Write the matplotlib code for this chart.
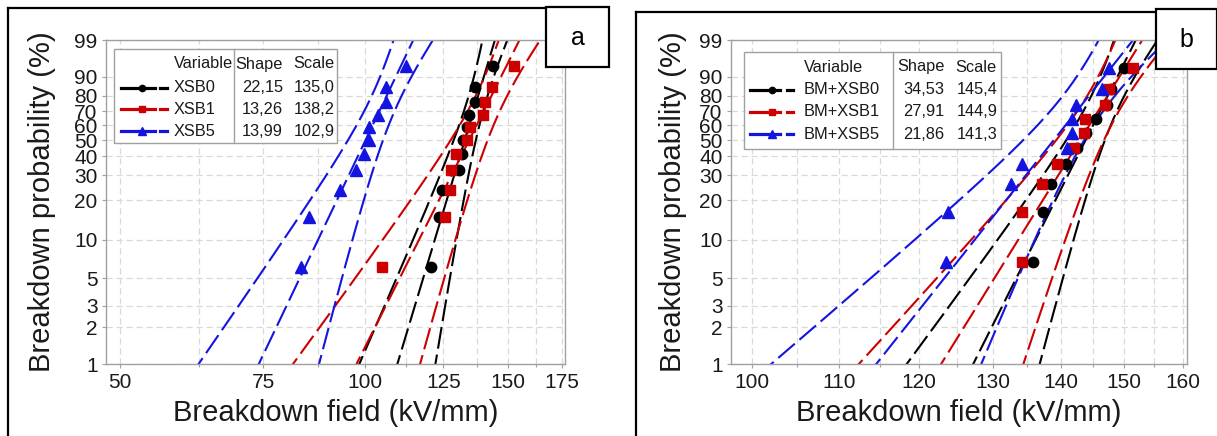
import numpy as np
import matplotlib
matplotlib.use("Agg")
import matplotlib.pyplot as plt
from matplotlib.lines import Line2D
from matplotlib.patches import Rectangle
from matplotlib.ticker import FixedLocator, FixedFormatter, NullFormatter

plt.rcParams["font.family"] = ["Liberation Sans", "DejaVu Sans"]

# ---- data ------------------------------------------------------------
# median-rank plotting positions (%) of the specimens
prob_a = [6.1, 14.9, 23.7, 32.5, 41.2, 50.0, 58.8, 67.5, 76.3, 85.1, 93.9]
prob_b = [6.7, 16.3, 26.0, 35.6, 45.2, 54.8, 64.4, 74.0, 83.7, 93.3]

names_a = ["XSB0", "XSB1", "XSB5"]
shape_a = [22.15, 13.26, 13.99]
scale_a = [135.0, 138.2, 102.9]
field_xsb0 = [120.7, 123.3, 124.4, 130.6, 131.8, 132.1, 133.5, 134.3, 136.8, 136.8, 143.9]
field_xsb1 = [105.0, 125.7, 127.5, 127.8, 129.6, 133.5, 134.7, 140.0, 140.8, 143.5, 152.8]
field_xsb5 = [83.6, 85.4, 93.3, 97.5, 99.7, 101.1, 101.3, 103.9, 106.3, 106.3, 112.5]

names_b = ["BM+XSB0", "BM+XSB1", "BM+XSB5"]
shape_b = [34.53, 27.91, 21.86]
scale_b = [145.4, 144.9, 141.3]
field_bm0 = [135.9, 137.3, 138.5, 140.8, 142.5, 143.9, 145.5, 147.2, 148.0, 150.1]
field_bm1 = [134.2, 134.3, 137.2, 139.5, 142.1, 143.6, 143.8, 147.0, 147.6, 151.5]
field_bm5 = [123.5, 123.8, 132.6, 134.2, 141.0, 141.7, 141.8, 142.4, 146.5, 147.6]

prob_ticks = [1, 2, 3, 5, 10, 20, 30, 40, 50, 60, 70, 80, 90, 99]
xticks_a = [50, 75, 100, 125, 150, 175]
xminor_a = [62.5, 87.5, 112.5, 137.5, 162.5]
xticks_b = [100, 110, 120, 130, 140, 150, 160]
xminor_b = [105, 115, 125, 135, 145, 155]

colors = ["#000000", "#cc0000", "#1414e0"]
markers = ["o", "s", "^"]
msizes = [7.5, 6.5, 9.0]

W, H = 1217, 436


def fx(x):
    return x / W


def fy(y):
    return 1 - y / H


def weib(p):
    p = np.clip(np.asarray(p, dtype=float), 1e-6, 100 - 1e-6)
    return np.log(-np.log(1 - p / 100.0))


def weib_inv(w):
    return 100.0 * (1 - np.exp(-np.exp(np.asarray(w, dtype=float))))


def fit_and_bounds(shape, scale, n, z=1.96):
    """Weibull fit line with approximate 95% Fisher-matrix percentile bounds."""
    w = np.linspace(weib(0.8), weib(99.3), 300)
    b = 1.0 / shape
    centre = np.log(scale) + w * b
    half = z * b * np.sqrt((1.1087 - 0.514 * w + 0.6079 * w ** 2) / n)
    return weib_inv(w), np.exp(centre), np.exp(centre - half), np.exp(centre + half)


fig = plt.figure(figsize=(W / 100, H / 100), dpi=100)


def setup_axes(rect, xlim, ticks, minor, ylab_x):
    ax = fig.add_axes(rect)
    ax.set_xscale("log")
    ax.set_yscale("function", functions=(weib, weib_inv))
    ax.set_xlim(*xlim)
    ax.set_ylim(1, 99)
    ax.xaxis.set_major_locator(FixedLocator(ticks))
    ax.xaxis.set_major_formatter(FixedFormatter([str(t) for t in ticks]))
    ax.xaxis.set_minor_locator(FixedLocator(minor))
    ax.xaxis.set_minor_formatter(NullFormatter())
    ax.yaxis.set_major_locator(FixedLocator(prob_ticks))
    ax.yaxis.set_major_formatter(FixedFormatter([str(t) for t in prob_ticks]))
    ax.yaxis.set_minor_locator(FixedLocator([]))
    ax.grid(True, which="both", color="#d9d9d9", linestyle=(0, (5, 3)), linewidth=0.9)
    ax.set_axisbelow(True)
    for s in ax.spines.values():
        s.set_color("#a0a0a0")
        s.set_linewidth(1.0)
    ax.tick_params(which="both", length=3, width=0.8, color="#a0a0a0",
                   labelsize=15, labelcolor="#1a1a1a", pad=3)
    ax.tick_params(which="minor", length=2)
    ax.set_xlabel("Breakdown field (kV/mm)", fontsize=21, color="#1a1a1a")
    ax.set_ylabel("Breakdown probability (%)", fontsize=21, color="#1a1a1a")
    ax.xaxis.set_label_coords(0.5, -0.15)
    ax.xaxis.label.set_va("center")
    ax.yaxis.set_label_coords(ylab_x, 0.5)
    ax.yaxis.label.set_va("center")
    return ax


def draw_series(ax, fields, shapes, scales, probs):
    n = len(probs)
    for k, (vals, sh, sc) in enumerate(zip(fields, shapes, scales)):
        p, mid, lo, hi = fit_and_bounds(sh, sc, n)
        for curve in (lo, mid, hi):
            ax.plot(curve, p, color=colors[k], lw=1.5, dashes=(10.5, 2.9), zorder=2)
    for k, vals in enumerate(fields):
        ax.plot(vals, probs, ls="none", marker=markers[k], ms=msizes[k],
                color=colors[k], mec=colors[k], zorder=3, clip_on=False)


def draw_legend(box, divider, header_y, rows_y, name_x, shape_r, scale_r,
                shape_l, scale_l, line_x, names, shapes, scales):
    x0, y0, x1, y1 = box
    fig.add_artist(Rectangle((fx(x0), fy(y1)), fx(x1) - fx(x0), fy(y0) - fy(y1),
                             transform=fig.transFigure, facecolor="white",
                             edgecolor="#a0a0a0", lw=1.0, zorder=5))
    fig.add_artist(Line2D([fx(divider)] * 2, [fy(y0), fy(y1)], transform=fig.transFigure,
                          color="#a0a0a0", lw=1.0, zorder=6))
    kw = dict(fontsize=11.8, color="#1a1a1a", va="center", zorder=7)
    fig.text(fx(name_x), fy(header_y), "Variable", ha="left", **kw)
    fig.text(fx(shape_l), fy(header_y), "Shape", ha="left", **kw)
    fig.text(fx(scale_l), fy(header_y), "Scale", ha="left", **kw)
    s0, s1, mk, d0, d1 = line_x
    for k, y in enumerate(rows_y):
        fig.add_artist(Line2D([fx(s0), fx(s1)], [fy(y)] * 2, transform=fig.transFigure,
                              color=colors[k], lw=2.3, zorder=7))
        fig.add_artist(Line2D([fx(d0), fx(d1)], [fy(y)] * 2, transform=fig.transFigure,
                              color=colors[k], lw=2.3, zorder=7))
        fig.add_artist(Line2D([fx(mk)], [fy(y)], transform=fig.transFigure, ls="none",
                              marker=markers[k], ms=msizes[k] * 0.6, color=colors[k], zorder=8))
        fig.text(fx(name_x), fy(y), names[k], ha="left", **kw)
        fig.text(fx(shape_r), fy(y), f"{shapes[k]:.2f}".replace(".", ","), ha="right", **kw)
        fig.text(fx(scale_r), fy(y), f"{scales[k]:.1f}".replace(".", ","), ha="right", **kw)


def frame_line(xs, ys, lw=1.6):
    fig.add_artist(Line2D([fx(v) for v in xs], [fy(v) for v in ys],
                          transform=fig.transFigure, color="black", lw=lw, zorder=9))


def letter_box(x0, y0, x1, y1, letter):
    fig.add_artist(Rectangle((fx(x0), fy(y1)), fx(x1) - fx(x0), fy(y0) - fy(y1),
                             transform=fig.transFigure, facecolor="white",
                             edgecolor="black", lw=1.6, zorder=9))
    fig.text(fx((x0 + x1) / 2), fy((y0 + y1) / 2 + 1), letter, ha="center", va="center",
             fontsize=18, color="black", zorder=10)


# ---- panel a ---------------------------------------------------------
ax_a = setup_axes([fx(106), fy(364.3), (565 - 106) / W, (364.3 - 40) / H],
                  (48.06, 176.4), xticks_a, xminor_a, -0.139)
draw_series(ax_a, [field_xsb0, field_xsb1, field_xsb5], shape_a, scale_a, prob_a)
draw_legend((114, 49, 337, 143), 234, 64, [88, 109.5, 131], 174, 283, 334.5, 235, 293,
            (120.7, 155, 141.7, 160, 167), names_a, shape_a, scale_a)

# ---- panel b ---------------------------------------------------------
ax_b = setup_axes([fx(731), fy(364.3), (1187 - 731) / W, (364.3 - 40) / H],
                  (97.74, 160.7), xticks_b, xminor_b, -0.127)
draw_series(ax_b, [field_bm0, field_bm1, field_bm5], shape_b, scale_b, prob_b)
draw_legend((744, 51.7, 1001, 149), 893, 67, [90, 111.5, 134], 804, 944, 997.7, 897, 955,
            (750, 780, 771.7, 786.7, 793.3), names_b, shape_b, scale_b)

# ---- panel frames and letter boxes ------------------------------------
frame_line([8, 8], [436, 8])
frame_line([8, 546], [8, 8])
letter_box(546, 7, 609, 67, "a")
frame_line([636, 636], [436, 12])
frame_line([636, 1156], [12, 12])
letter_box(1156, 9, 1217, 69, "b")

fig.savefig("out.png", dpi=100)
